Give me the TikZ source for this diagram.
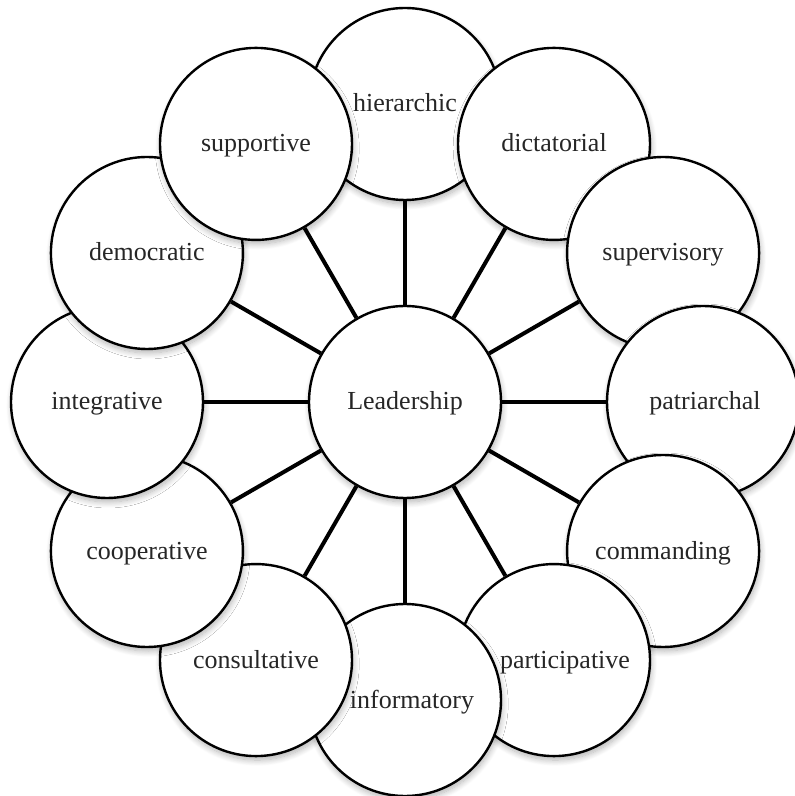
\documentclass[tikz,border=0pt]{standalone}
\usepackage{fontspec}
\setmainfont{Liberation Serif}
\usepackage{tikz}
\usetikzlibrary{shadows.blur}

\begin{document}
\begin{tikzpicture}[x=1pt,y=1pt]
    \tikzstyle{every node}=[shape=circle,draw,line width=1.2pt,fill=white,minimum size=96pt,
        inner sep=0pt,text height=8pt,text depth=0pt,text=black!85,font=\fontsize{13}{15}\selectfont,
        blur shadow={shadow xshift=0.6pt,shadow yshift=-2pt,shadow blur radius=3pt,
            shadow blur steps=10,shadow opacity=30}];
    \tikzstyle{spoke}=[draw,line width=2pt];

    \useasboundingbox (-202.5,-197) rectangle (195,201);

    \node (n0) at (0,0) {Leadership};

    % outer ring, clockwise from the top; each one lies over the one before
    % (\dx pushes a label to the right by half its value)
    \foreach \lbl/\dx [count=\i] in {hierarchic/0,dictatorial/0,supervisory/0,patriarchal/2,
        commanding/0,participative/11,informatory/7,consultative/0,cooperative/0,
        integrative/0,democratic/0,supportive/0}
        \node (n\i) at ({120-30*\i}:149) {\hspace*{\dx pt}\lbl};

    \foreach \i in {1,...,12}
        \path[spoke] (n0) -- (n\i);

\end{tikzpicture}
\end{document}
